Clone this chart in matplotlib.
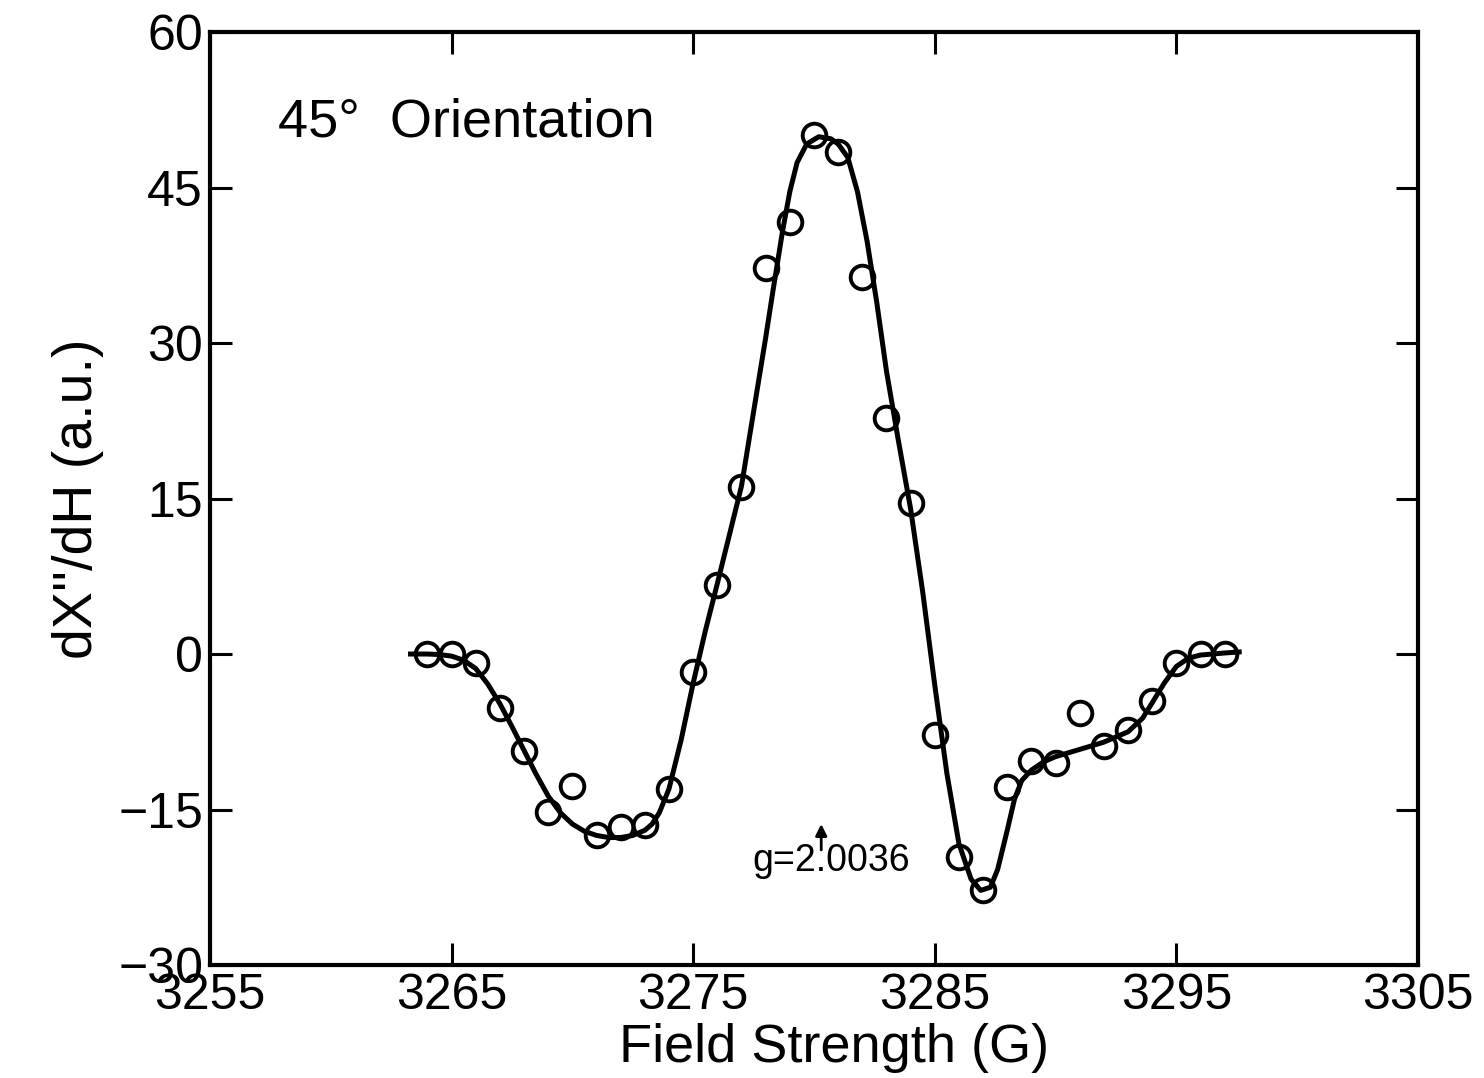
import numpy as np
import matplotlib
matplotlib.use("Agg")
import matplotlib.pyplot as plt

# measured points (open circles)
field_pts = [3264, 3265, 3266, 3267, 3268, 3269, 3270, 3271, 3272, 3273,
             3274, 3275, 3276, 3277, 3278, 3279, 3280, 3281, 3282, 3283,
             3284, 3285, 3286, 3287, 3288, 3289, 3290, 3291, 3292, 3293,
             3294, 3295, 3296, 3297]
signal_pts = [0.0, 0.0, -0.9, -5.2, -9.4, -15.2, -12.7, -17.5, -16.7, -16.5,
              -13.0, -1.7, 6.7, 16.1, 37.2, 41.7, 50.1, 48.4, 36.4, 22.8,
              14.6, -7.8, -19.6, -22.8, -12.8, -10.3, -10.5, -5.7, -8.9, -7.3,
              -4.5, -0.9, 0.0, 0.0]

# fitted curve
field_fit = [3263.3, 3264.0, 3264.5, 3265.0, 3265.5, 3266.0, 3266.5, 3267.0,
             3267.5, 3268.0, 3268.5, 3269.0, 3269.5, 3270.0, 3270.5, 3271.0,
             3271.5, 3272.0, 3272.5, 3273.0, 3273.3, 3273.6, 3274.0, 3274.5,
             3275.0, 3275.5, 3276.0, 3276.5, 3277.0, 3277.3, 3277.6, 3278.0,
             3278.3, 3278.7, 3279.0, 3279.3, 3279.7, 3280.2, 3280.7, 3281.0,
             3281.4, 3281.8, 3282.2, 3282.6, 3283.0, 3283.5, 3284.0, 3284.5,
             3285.0, 3285.5, 3286.0, 3286.5, 3286.9, 3287.3, 3287.6, 3288.0,
             3288.3, 3288.6, 3289.0, 3289.5, 3290.0, 3291.0, 3292.0, 3293.0,
             3293.6, 3294.0, 3294.5, 3295.0, 3295.5, 3296.0, 3297.0, 3297.6]
signal_fit = [0.0, 0.0, -0.05, -0.2, -0.6, -1.4, -2.9, -4.8,
              -7.0, -9.3, -11.6, -13.7, -15.3, -16.4, -17.1, -17.5,
              -17.7, -17.7, -17.5, -17.0, -16.4, -15.3, -13.0, -8.3,
              -2.8, 2.2, 6.8, 11.5, 16.2, 20.5, 24.8, 30.5,
              35.0, 40.8, 44.6, 47.4, 49.2, 49.9, 49.7, 49.2,
              47.9, 44.6, 39.8, 33.9, 27.3, 20.5, 14.0, 6.0,
              -3.0, -11.5, -18.3, -21.7, -22.8, -22.5, -20.8, -17.0,
              -14.0, -12.2, -11.2, -10.4, -9.9, -9.2, -8.5, -7.5,
              -6.2, -4.7, -2.8, -1.2, -0.4, -0.1, 0.1, 0.2]

plt.rcParams['font.family'] = ['Liberation Sans', 'DejaVu Sans']

fig = plt.figure(figsize=(14.84, 10.78), dpi=100)
ax = fig.add_axes([0.1415, 0.1048, 0.814, 0.8655])

ax.plot(field_fit, signal_fit, '-', color='black', lw=3.6, zorder=2,
        solid_joinstyle='round')
ax.plot(field_pts, signal_pts, 'o', mfc='none', mec='black', ms=17, mew=2.8, zorder=3)

ax.set_xlim(3255, 3305)
ax.set_ylim(-30, 60)
ax.set_xticks([3255, 3265, 3275, 3285, 3295, 3305])
ax.set_yticks([-30, -15, 0, 15, 30, 45, 60])
ax.set_yticklabels(['\u221230', '\u221215', '0', '15', '30', '45', '60'])
ax.tick_params(direction='in', length=16, width=2.2, top=True, right=True,
               labelsize=36, pad=5)
ax.tick_params(axis='x', pad=6)
for s in ax.spines.values():
    s.set_linewidth(3)

ax.set_xlabel('Field Strength (G)', fontsize=39, va='center')
ax.xaxis.set_label_coords(0.517, -0.089)
ax.set_ylabel("dX''/dH (a.u.)", fontsize=40, labelpad=10)

ax.text(3257.8, 51.3, '45\u00b0  Orientation', fontsize=39, va='center')
ax.text(3280.7, -20.0, 'g=2.0036', fontsize=27, ha='center', va='center')
ax.annotate('', xy=(3280.3, -16.4), xytext=(3280.3, -18.9),
            arrowprops=dict(arrowstyle='-|>', color='black', lw=2.0,
                            mutation_scale=17, shrinkA=0, shrinkB=0))

fig.savefig('out.png', dpi=100)
